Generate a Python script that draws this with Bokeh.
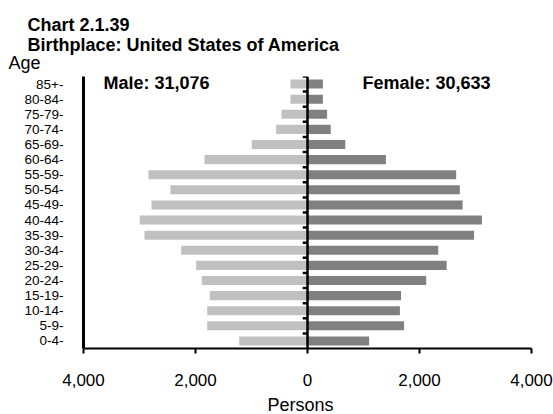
from bokeh.plotting import figure
from bokeh.models import Range1d, FactorRange, FixedTicker, Label, Span, Title
from bokeh.embed import file_html
from bokeh.resources import INLINE

# ---- data ----
age_groups = ["0-4", "5-9", "10-14", "15-19", "20-24", "25-29", "30-34", "35-39",
              "40-44", "45-49", "50-54", "55-59", "60-64", "65-69", "70-74",
              "75-79", "80-84", "85+"]
male = [1220, 1791, 1791, 1745, 1887, 1988, 2256, 2911, 2995, 2786, 2447, 2840,
        1840, 995, 560, 464, 304, 304]
female = [1100, 1725, 1650, 1670, 2120, 2485, 2335, 2975, 3115, 2770, 2720, 2655,
          1400, 675, 415, 350, 275, 275]
x_ticks = [-4000, -2000, 0, 2000, 4000]
x_tick_labels = ["4,000", "2,000", "0", "2,000", "4,000"]
title_1 = "Chart 2.1.39"
title_2 = "Birthplace: United States of America"
male_label = "Male: 31,076"
female_label = "Female: 30,633"
x_title = "Persons"
y_title = "Age"

FONT = "Liberation Sans"
y_factors = [g + "-" for g in age_groups]

p = figure(width=553, height=414, output_backend="svg", toolbar_location=None,
           x_range=Range1d(-4000, 4000), y_range=FactorRange(*y_factors),
           min_border_left=83, min_border_right=22, min_border_top=76,
           min_border_bottom=66)
p.outline_line_color = None
p.xgrid.visible = False
p.ygrid.visible = False
p.background_fill_color = "white"
p.border_fill_color = "white"

p.hbar(y=y_factors, left=[-m for m in male], right=0, height=0.6,
       fill_color="#c0c0c0", line_color=None)
p.hbar(y=y_factors, left=0, right=female, height=0.6,
       fill_color="#808080", line_color=None)

# center axis line with ticks at category boundaries
p.add_layout(Span(location=0, dimension="height", line_color="black", line_width=2.5))
bounds = list(range(1, len(age_groups) + 1))
p.segment(x0=[0] * len(bounds), x1=[-85] * len(bounds), y0=bounds, y1=bounds,
          line_color="black", line_width=2.5)

# axes
xa = p.xaxis[0]
xa.ticker = FixedTicker(ticks=x_ticks)
xa.major_label_overrides = {t: l for t, l in zip(x_ticks, x_tick_labels)}
xa.axis_line_width = 2
xa.major_tick_line_width = 2
xa.major_tick_out = 5
xa.major_tick_in = 0
xa.minor_tick_line_color = None
xa.major_label_standoff = 20
xa.major_label_text_font = FONT
xa.major_label_text_font_size = "17px"
xa.major_label_text_color = "black"

ya = p.yaxis[0]
ya.axis_line_width = 3
ya.major_tick_line_color = None
ya.major_tick_out = 0
ya.major_tick_in = 0
ya.minor_tick_line_color = None
ya.major_label_standoff = 20
ya.major_label_text_font = FONT
ya.major_label_text_font_size = "13.5px"
ya.major_label_text_color = "black"

# texts above the frame (first added = nearest the frame)
p.add_layout(Title(text=y_title, align="left", offset=-75, standoff=7,
                   text_font=FONT, text_font_size="18px", text_font_style="normal",
                   text_color="black"), "above")
p.add_layout(Title(text=title_2, align="left", offset=-56, standoff=-14,
                   text_font=FONT, text_font_size="18px", text_font_style="bold",
                   text_color="black"), "above")
p.add_layout(Title(text=title_1, align="left", offset=-56, standoff=10,
                   text_font=FONT, text_font_size="18px", text_font_style="bold",
                   text_color="black"), "above")

# x-axis title below the tick labels
p.add_layout(Title(text=x_title, align="left", offset=184, standoff=-52,
                   text_font=FONT, text_font_size="18px", text_font_style="normal",
                   text_color="black"), "below")


def add_text(txt, x, y, size, bold=False, align="left"):
    p.add_layout(Label(x=x, y=y, x_units="screen", y_units="screen", text=txt,
                       text_font=FONT, text_font_size=size,
                       text_font_style="bold" if bold else "normal",
                       text_baseline="middle", text_align=align,
                       text_color="black"))


add_text(male_label, 20, 266, "18px", True)
add_text(female_label, 279, 266, "18px", True)

open("out.html", "w").write(file_html(p, INLINE))
